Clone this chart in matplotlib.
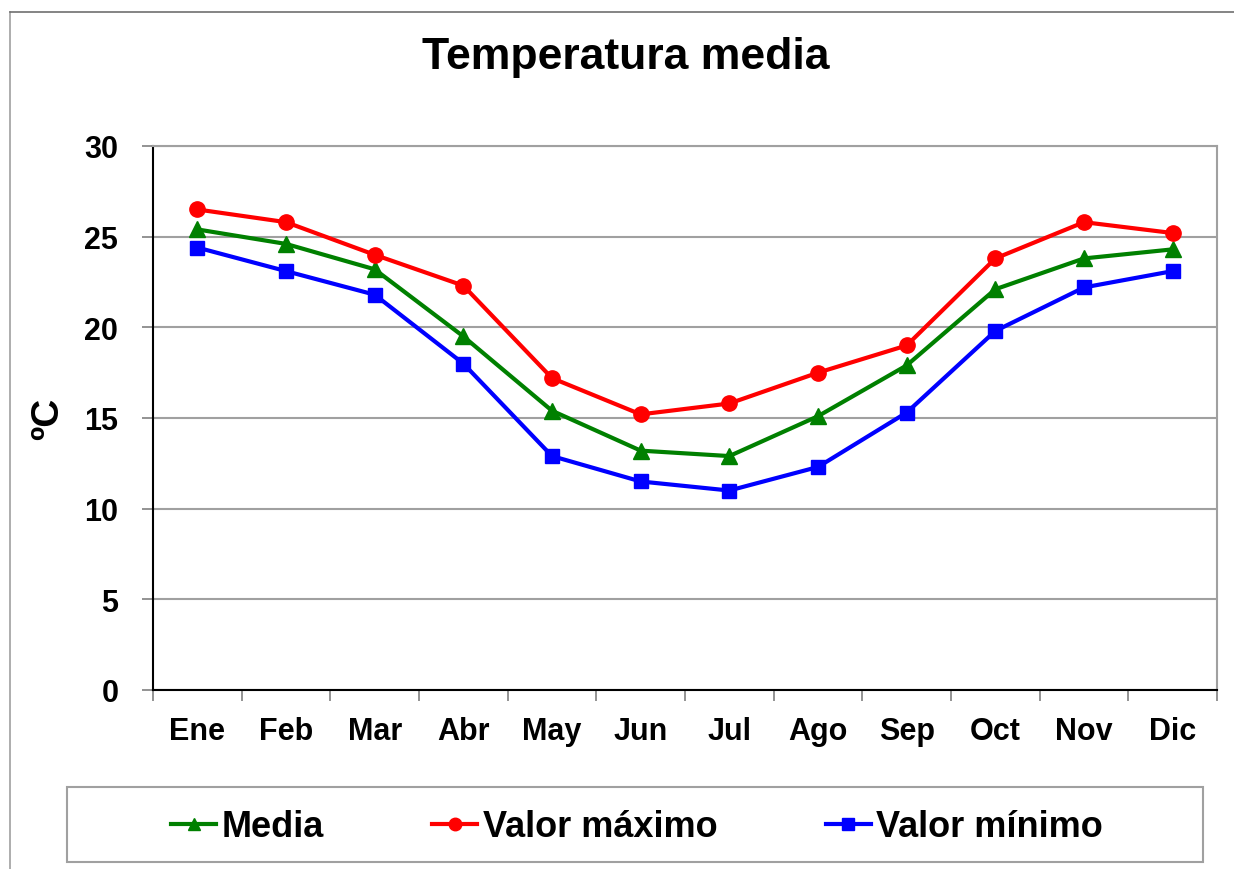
import matplotlib as mpl
mpl.use('Agg')
import matplotlib.pyplot as plt
from matplotlib.lines import Line2D
from matplotlib.patches import Rectangle
import numpy as np

plt.rcParams['font.family'] = ['Liberation Sans', 'DejaVu Sans']
plt.rcParams['font.weight'] = 'bold'

meses = ['Ene', 'Feb', 'Mar', 'Abr', 'May', 'Jun', 'Jul', 'Ago', 'Sep', 'Oct', 'Nov', 'Dic']
media = [25.4, 24.6, 23.2, 19.5, 15.4, 13.2, 12.9, 15.1, 17.9, 22.1, 23.8, 24.3]
maximo = [26.5, 25.8, 24.0, 22.3, 17.2, 15.2, 15.8, 17.5, 19.0, 23.8, 25.8, 25.2]
minimo = [24.4, 23.1, 21.8, 18.0, 12.9, 11.5, 11.0, 12.3, 15.3, 19.8, 22.2, 23.1]

W, H = 1234, 870
fig = plt.figure(figsize=(W / 100, H / 100), dpi=100)
# axes box in pixels: left 153, right 1217, top 147, bottom 691
ax = fig.add_axes([153 / W, 1 - 691 / H, (1217 - 153) / W, (691 - 147) / H])

x = np.arange(len(meses))
ax.plot(x, media, color='#008000', lw=3, marker='^', ms=11, label='Media', zorder=3)
ax.plot(x, maximo, color='#ff0000', lw=3, marker='o', ms=11, label='Valor máximo', zorder=3)
ax.plot(x, minimo, color='#0000ff', lw=3, marker='s', ms=10, label='Valor mínimo', zorder=3)

ax.set_xlim(-0.5, 11.5)
ax.set_ylim(0, 30)
ax.set_yticks(range(0, 31, 5))
ax.set_xticks(np.arange(-0.5, 12, 1))
ax.set_xticklabels([])
ax.set_xticks(x, minor=True)
ax.set_xticklabels(meses, minor=True)
ax.tick_params(axis='x', which='minor', length=0, pad=19, labelsize=22)
ax.tick_params(axis='x', which='major', length=8, color='#808080', width=1.2)
ax.tick_params(axis='y', length=8, color='#808080', width=1.2, pad=17, labelsize=22)
ax.yaxis.grid(True, color='#a0a0a0', lw=1.5)
ax.set_axisbelow(True)

for s in ['top', 'right']:
    ax.spines[s].set_color('#a0a0a0')
    ax.spines[s].set_linewidth(1.5)
for s in ['left', 'bottom']:
    ax.spines[s].set_color('black')
    ax.spines[s].set_linewidth(1.5)

ax.set_ylabel('ºC', fontsize=28, fontweight='bold')
ax.yaxis.set_label_coords(-0.082, 0.5)

fig.text(626 / W, 1 - 57 / H, 'Temperatura media', ha='center', va='center',
         fontsize=32, fontweight='bold')

# outer chart frame (left and top edges)
fig.add_artist(Line2D([10 / W, 10 / W], [0, 1 - 13 / H], transform=fig.transFigure,
                      color='#a0a0a0', lw=1.2))
fig.add_artist(Line2D([10 / W, 1], [1 - 13 / H, 1 - 13 / H], transform=fig.transFigure,
                      color='#707070', lw=1.2))

# legend box
fig.add_artist(Rectangle((67 / W, 1 - 863 / H), 1136 / W, 75 / H, transform=fig.transFigure,
                         facecolor='white', edgecolor='#a0a0a0', lw=1.5))
leg = fig.legend(loc='center', bbox_to_anchor=(637 / W, 1 - 828 / H),
                 ncol=3, fontsize=26, frameon=False, handlelength=1.25,
                 handletextpad=0.15, columnspacing=3.0, borderaxespad=0)
for h in leg.legend_handles:
    h.set_markersize(9)

fig.savefig('out.png', dpi=100, facecolor='white')
